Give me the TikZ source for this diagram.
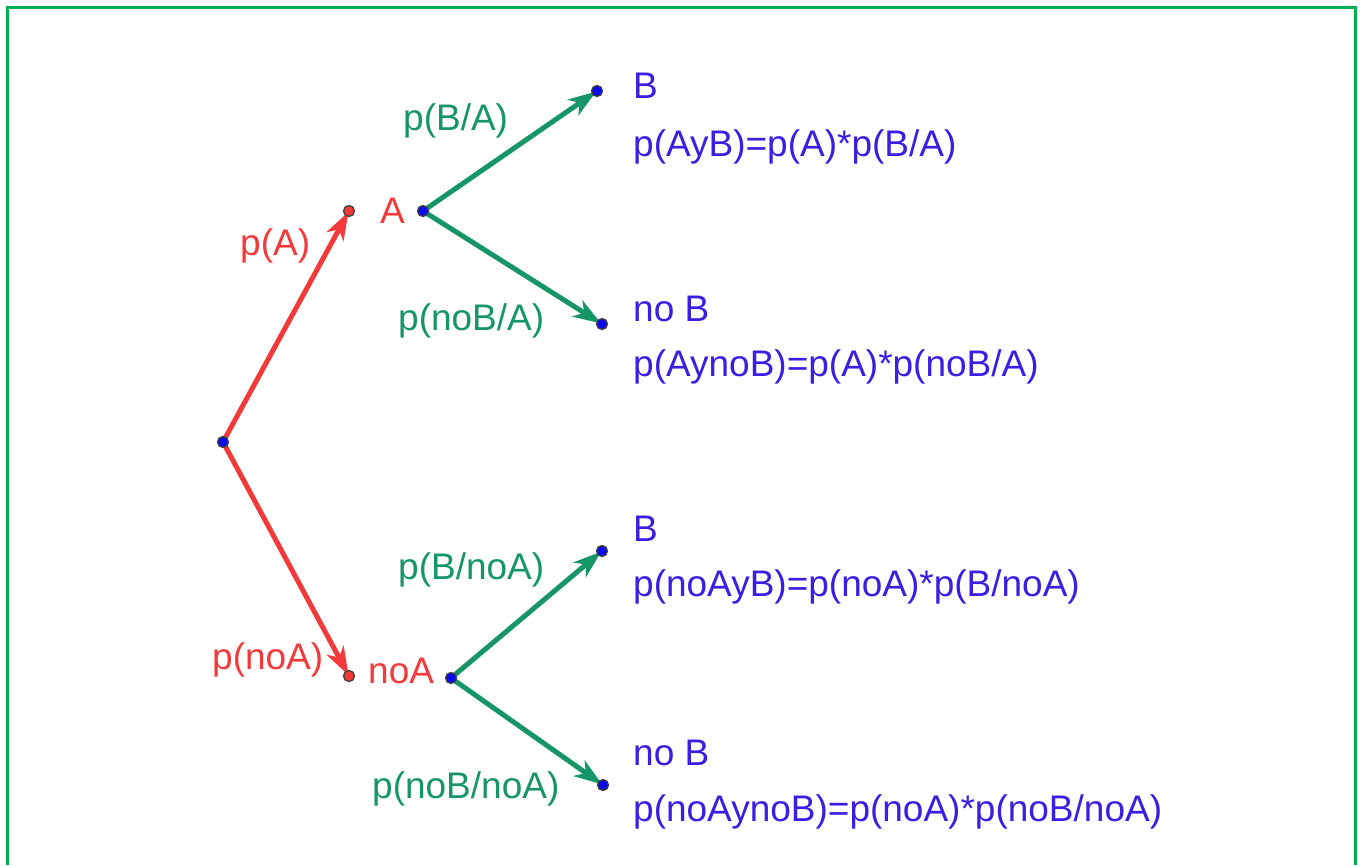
\documentclass[tikz,border=0pt]{standalone}
\usepackage{fontspec}
\setmainfont{Liberation Sans}
\usetikzlibrary{arrows.meta}
\definecolor{gred}{RGB}{242,58,58}
\definecolor{ggreen}{RGB}{22,150,102}
\definecolor{gtext}{RGB}{58,30,228}
\definecolor{gdot}{RGB}{10,10,235}
\definecolor{gframe}{RGB}{0,176,80}
\tikzset{
  lbl/.style={anchor=base west, inner sep=0pt, font=\fontsize{37}{44}\selectfont},
  redlbl/.style={lbl, text=gred},
  greenlbl/.style={lbl, text=ggreen},
  bluelbl/.style={lbl, text=gtext},
  reddot/.style={circle, fill=gred, draw=black!75, line width=1.3pt, inner sep=0pt, minimum size=11pt},
  bluedot/.style={circle, fill=gdot, draw=black!75, line width=1.3pt, inner sep=0pt, minimum size=11pt},
  redarrow/.style={gred, line width=5pt, -{Stealth[length=28pt,width=19pt,inset=8pt]}, shorten >=1pt},
  greenarrow/.style={ggreen, line width=5pt, -{Stealth[length=28pt,width=19pt,inset=8pt]}, shorten >=1pt}
}
\begin{document}
\begin{tikzpicture}[x=1pt,y=-1pt]
\useasboundingbox (0,0) rectangle (1362,865);
\draw[gframe, line width=3pt] (7,865) -- (7,7) -- (1355,7) -- (1355,865);

% points
\coordinate (R) at (223,442);
\coordinate (A) at (349,211);
\coordinate (A2) at (423,211);
\coordinate (B1) at (597,91);
\coordinate (NB1) at (602,324);
\coordinate (NA) at (349,676);
\coordinate (NA2) at (451,678);
\coordinate (B2) at (602,551);
\coordinate (NB2) at (603,785);

% connectors
\draw[redarrow] (R) -- (A);
\draw[redarrow] (R) -- (NA);
\draw[greenarrow] (A2) -- (B1);
\draw[greenarrow] (A2) -- (NB1);
\draw[greenarrow] (NA2) -- (B2);
\draw[greenarrow] (NA2) -- (NB2);

% dots
\node[bluedot] (dR) at (R) {};
\node[reddot] (dA) at (A) {};
\node[bluedot] (dA2) at (A2) {};
\node[bluedot] (dB1) at (B1) {};
\node[bluedot] (dNB1) at (NB1) {};
\node[reddot] (dNA) at (NA) {};
\node[bluedot] (dNA2) at (NA2) {};
\node[bluedot] (dB2) at (B2) {};
\node[bluedot] (dNB2) at (NB2) {};

% red labels
\node[redlbl] (lpA) at (240,255) {p(A)};
\node[redlbl] (lpnoA) at (212,669) {p(noA)};
\node[redlbl] (lA) at (380,223) {A};
\node[redlbl] (lnoA) at (368,683) {noA};

% green labels
\node[greenlbl] (lBA) at (403,130) {p(B/A)};
\node[greenlbl] (lnBA) at (398,330) {p(noB/A)};
\node[greenlbl] (lBnA) at (398,579) {p(B/noA)};
\node[greenlbl] (lnBnA) at (372,798) {p(noB/noA)};

% blue labels
\node[bluelbl] (t1) at (633,98) {B};
\node[bluelbl] (t2) at (633,156) {p(AyB)=p(A)*p(B/A)};
\node[bluelbl] (t3) at (633,321) {no B};
\node[bluelbl] (t4) at (633,376) {p(AynoB)=p(A)*p(noB/A)};
\node[bluelbl] (t5) at (633,541) {B};
\node[bluelbl] (t6) at (633,596) {p(noAyB)=p(noA)*p(B/noA)};
\node[bluelbl] (t7) at (633,765) {no B};
\node[bluelbl] (t8) at (633,821) {p(noAynoB)=p(noA)*p(noB/noA)};
\end{tikzpicture}
\end{document}
